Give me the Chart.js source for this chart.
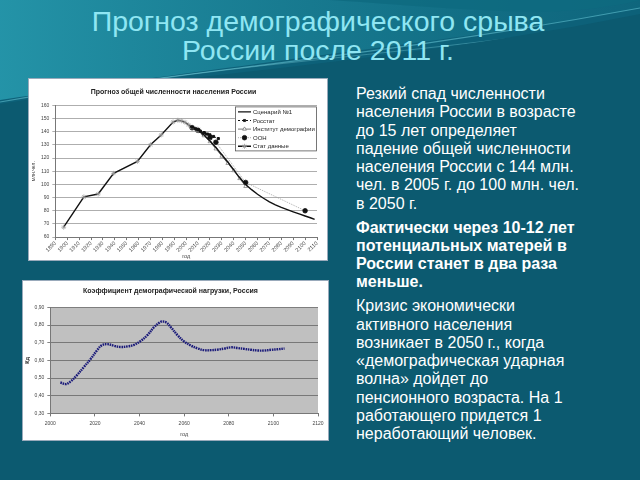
<!DOCTYPE html>
<html>
<head>
<meta charset="utf-8">
<script src="https://cdn.jsdelivr.net/npm/chart.js@4.4.1/dist/chart.umd.min.js"></script>
<style>
  body { margin: 0; width: 640px; height: 480px; overflow: hidden; position: relative;
         background: #0c5a70; font-family: "Liberation Sans", Arial, sans-serif; }
  #bg { position: absolute; left: 0; top: 0; }
  h1 { position: absolute; left: 0; top: 7px; width: 636px; margin: 0; text-align: center;
       font-weight: normal; font-size: 28.5px; line-height: 28.5px; color: #8fe6f3; }
  .box { position: absolute; background: #fff; border: 1px solid #9ab; box-sizing: border-box; }
  .box canvas { position: absolute; left: 0; top: 0; }
  #txt { position: absolute; left: 356px; top: 85px; color: #fff; font-size: 16px;
         line-height: 18.3px; white-space: nowrap; }
  #txt p { margin: 0 0 5.5px 0; }
</style>
</head>
<body>
<svg id="bg" width="640" height="130">
  <defs>
    <linearGradient id="g1" x1="0" y1="0" x2="1" y2="0">
      <stop offset="0" stop-color="#2596aa" stop-opacity="0.95"/>
      <stop offset="0.6" stop-color="#1a8196" stop-opacity="0.6"/>
      <stop offset="1" stop-color="#137287" stop-opacity="0.3"/>
    </linearGradient>
  </defs>
  <rect x="0" y="0" width="640" height="130" fill="#0d6179"/>
  <path d="M0,0 L640,0 L640,8 C470,40 300,55 0,100 Z" fill="url(#g1)"/>
  <path d="M0,0 L640,0 L640,0 C560,20 480,10 330,0 Z" fill="#0e6a80" opacity="0.8"/>
  <path d="M0,102 C180,70 360,60 640,8" stroke="#7fe0ee" stroke-opacity="0.45" stroke-width="1.2" fill="none"/>
  <path d="M60,95 C230,62 420,55 640,20" stroke="#9ff0f8" stroke-opacity="0.35" stroke-width="0.8" fill="none"/>
  <path d="M0,130 L0,104 C200,72 400,62 640,14 L640,130 Z" fill="#0c5a70"/>
</svg>

<h1>Прогноз демографического срыва<br>России после 2011 г.</h1>

<div class="box" style="left:28px; top:78px; width:300px; height:183px;">
  <canvas id="popChart" width="298" height="181"></canvas>
</div>
<div class="box" style="left:22px; top:280px; width:307px; height:161px;">
  <canvas id="kdChart" width="305" height="159"></canvas>
</div>

<div id="txt">
  <p>Резкий спад численности<br>населения России в возрасте<br>до 15 лет определяет<br>падение общей численности<br>населения России с 144 млн.<br>чел. в 2005 г. до 100 млн. чел.<br>в 2050 г.</p>
  <p><b>Фактически через 10-12 лет<br>потенциальных матерей в<br>России станет в два раза<br>меньше.</b></p>
  <p>Кризис экономически<br>активного населения<br>возникает в 2050 г., когда<br>«демографическая ударная<br>волна» дойдет до<br>пенсионного возраста. На 1<br>работающего придется 1<br>неработающий человек.</p>
</div>

<script>
// population, mln people
const statYears = [1897, 1914, 1926, 1939, 1959, 1970, 1979, 1989, 1993, 1996, 1999, 2002, 2005, 2008, 2010];
const statPop = [67.5, 90.5, 92.7, 108.4, 117.5, 130.1, 137.6, 147.4, 148.7, 148.3, 147.2, 145.2, 143.5, 142.2, 141.8];

const scenYears = [2005, 2010, 2015, 2020, 2025, 2030, 2035, 2040, 2045, 2050, 2055, 2060, 2065, 2070, 2075, 2080, 2085, 2090, 2095, 2100, 2105, 2108];
const scenPop = [143.5, 141.5, 137.5, 133, 128, 122.5, 117, 111, 105, 100, 96, 92.5, 89.5, 86.8, 84.5, 82.5, 80.8, 79.2, 77.6, 76, 74.5, 73.5];

const rosstatYears = [2005, 2008, 2010, 2012, 2015, 2018, 2020, 2023, 2027];
const rosstatPop = [143.5, 142.2, 141.3, 140.4, 139.3, 138.2, 137.6, 136.4, 134.8];

const instYears = [2005, 2010, 2015, 2020, 2025, 2030, 2035, 2040, 2045, 2050];
const instPop = [143, 140.5, 137, 132.5, 127, 121.5, 116, 110.5, 104.5, 98.5];

const unYears = [2005, 2010, 2015, 2020, 2025, 2050, 2100];
const unPop = [143, 141, 138.5, 135.5, 132, 101.5, 80];

// dependency ratio
const kdYears = [2004.5, 2007, 2009, 2012, 2015, 2018, 2021, 2023, 2025.5, 2028.5, 2031.5, 2035, 2037.5, 2040.5, 2043.5, 2046.5, 2049, 2050, 2052, 2054, 2057, 2060, 2063, 2066, 2069, 2072, 2075, 2078, 2081, 2084, 2087, 2090, 2093, 2096, 2099, 2102, 2105];
const kdValues = [0.475, 0.466, 0.48, 0.517, 0.562, 0.607, 0.658, 0.685, 0.692, 0.683, 0.676, 0.68, 0.688, 0.71, 0.743, 0.788, 0.815, 0.82, 0.815, 0.788, 0.743, 0.707, 0.684, 0.668, 0.658, 0.658, 0.661, 0.667, 0.674, 0.67, 0.665, 0.66, 0.656, 0.656, 0.66, 0.663, 0.667];

const toXY = (xs, ys) => xs.map((x, i) => ({ x, y: ys[i] }));

Chart.defaults.font.family = '"Liberation Sans", Arial, sans-serif';
Chart.defaults.color = '#333';

// legend drawn as a box over the plot, like the original
const boxLegend = {
  id: 'boxLegend',
  afterDraw(chart) {
    const { ctx, chartArea } = chart;
    const w = 82, h = 45;
    const x0 = chartArea.right - w, y0 = chartArea.top + 1;
    ctx.save();
    ctx.fillStyle = '#fff';
    ctx.fillRect(x0, y0, w, h);
    ctx.strokeStyle = '#555';
    ctx.lineWidth = 0.8;
    ctx.strokeRect(x0 + 0.5, y0 + 0.5, w - 1, h - 1);
    ctx.beginPath();
    ctx.rect(x0, y0, w, h);
    ctx.clip();
    chart.data.datasets.forEach((ds, i) => {
      const y = y0 + 5.5 + i * 8.6;
      ctx.strokeStyle = ds.borderColor;
      ctx.lineWidth = ds.borderWidth;
      ctx.setLineDash(ds.borderDash || []);
      ctx.beginPath();
      ctx.moveTo(x0 + 3, y);
      ctx.lineTo(x0 + 16, y);
      ctx.stroke();
      ctx.setLineDash([]);
      if (ds.pointRadius > 0) {
        ctx.fillStyle = ds.pointBackgroundColor;
        ctx.strokeStyle = ds.pointBorderColor;
        ctx.lineWidth = 0.8;
        Chart.helpers.drawPoint(ctx, { pointStyle: ds.pointStyle, radius: ds.pointRadius, rotation: 0, borderWidth: 0.8 }, x0 + 9.5, y);
      }
      ctx.fillStyle = '#222';
      ctx.font = '6px "Liberation Sans", Arial, sans-serif';
      ctx.textBaseline = 'middle';
      ctx.fillText(ds.label, x0 + 18, y + 0.5);
    });
    ctx.restore();
  }
};

new Chart(document.getElementById('popChart'), {
  type: 'scatter',
  data: {
    datasets: [
      {
        label: 'Сценарий №1', data: toXY(scenYears, scenPop), showLine: true,
        borderColor: '#111', borderWidth: 1.4, pointRadius: 0, order: 1
      },
      {
        label: 'Росстат', data: toXY(rosstatYears, rosstatPop), showLine: true,
        borderColor: '#111', borderWidth: 1, borderDash: [2, 2],
        pointStyle: 'rect', pointRadius: 1.5, pointBackgroundColor: '#111', pointBorderColor: '#111', order: 2
      },
      {
        label: 'Институт демографии', data: toXY(instYears, instPop), showLine: true,
        borderColor: '#555', borderWidth: 0.8,
        pointStyle: 'triangle', pointRadius: 2.2, pointBackgroundColor: '#fff', pointBorderColor: '#777', pointBorderWidth: 0.7, order: 3
      },
      {
        label: 'ООН', data: toXY(unYears, unPop), showLine: true,
        borderColor: '#999', borderWidth: 0.8, borderDash: [1, 1],
        pointStyle: 'circle', pointRadius: 2.3, pointBackgroundColor: '#111', pointBorderColor: '#111', order: 4
      },
      {
        label: 'Стат данные', data: toXY(statYears, statPop), showLine: true,
        borderColor: '#111', borderWidth: 1.4,
        pointStyle: 'star', pointRadius: 2.5, pointBackgroundColor: '#aaa', pointBorderColor: '#999', pointBorderWidth: 0.7, order: 5
      }
    ]
  },
  options: {
    responsive: false,
    animation: false,
    devicePixelRatio: 1,
    layout: { padding: { left: 1, right: 10, top: 0, bottom: 0 } },
    plugins: {
      legend: { display: false },
      tooltip: { enabled: false },
      title: {
        display: true, text: 'Прогноз общей численности населения России',
        font: { size: 7, weight: 'bold' }, color: '#222', padding: { top: 9, bottom: 9 }
      }
    },
    scales: {
      x: {
        type: 'linear', min: 1890, max: 2110,
        ticks: { stepSize: 10, autoSkip: false, minRotation: 45, maxRotation: 45, font: { size: 5.5 }, padding: 0, color: '#444',
                 callback: v => String(v) },
        grid: { drawOnChartArea: false, tickLength: 3, color: '#777' },
        border: { color: '#777' },
        title: { display: true, text: 'год', font: { size: 5.5 }, padding: 0, color: '#444' }
      },
      y: {
        min: 60, max: 160,
        ticks: { stepSize: 10, font: { size: 5 }, padding: 3, color: '#444' },
        grid: { color: '#999', tickLength: 3, lineWidth: 0.8 },
        border: { color: '#777' },
        title: { display: true, text: 'млн.чел.', font: { size: 5 }, padding: 1, color: '#444' }
      }
    }
  },
  plugins: [boxLegend]
});

const grayPlot = {
  id: 'grayPlot',
  beforeDraw(chart) {
    const { ctx, chartArea: a } = chart;
    ctx.save();
    ctx.fillStyle = '#c0c0c0';
    ctx.fillRect(a.left, a.top, a.right - a.left, a.bottom - a.top);
    ctx.restore();
  }
};

new Chart(document.getElementById('kdChart'), {
  type: 'scatter',
  data: {
    datasets: [{
      label: 'Кд', data: toXY(kdYears, kdValues), showLine: true,
      borderColor: '#1b1b7a', borderWidth: 2.4, borderDash: [1.6, 0.8],
      pointRadius: 0, tension: 0.4
    }]
  },
  options: {
    responsive: false,
    animation: false,
    devicePixelRatio: 1,
    layout: { padding: { left: 0, right: 10, top: 0, bottom: 1 } },
    plugins: {
      legend: { display: false },
      tooltip: { enabled: false },
      title: {
        display: true, text: 'Коэффициент демографической нагрузки, Россия',
        font: { size: 7, weight: 'bold' }, color: '#222', padding: { top: 6, bottom: 12 }
      }
    },
    scales: {
      x: {
        type: 'linear', min: 2000, max: 2120,
        ticks: { stepSize: 20, autoSkip: false, font: { size: 5 }, padding: 4, color: '#444', callback: v => String(v) },
        grid: { drawOnChartArea: false, tickLength: 3, color: '#777' },
        border: { color: '#777' },
        title: { display: true, text: 'год', font: { size: 5.5 }, padding: 1, color: '#444' }
      },
      y: {
        min: 0.3, max: 0.9,
        ticks: {
          stepSize: 0.1, font: { size: 5 }, padding: 3, color: '#444',
          callback: v => v.toFixed(2).replace('.', ',')
        },
        grid: { color: '#666', tickLength: 3, lineWidth: 0.8 },
        border: { color: '#777' },
        title: { display: true, text: 'Кд', font: { size: 5.5, weight: 'bold' }, padding: 1, color: '#333' }
      }
    }
  },
  plugins: [grayPlot]
});
</script>
</body>
</html>
